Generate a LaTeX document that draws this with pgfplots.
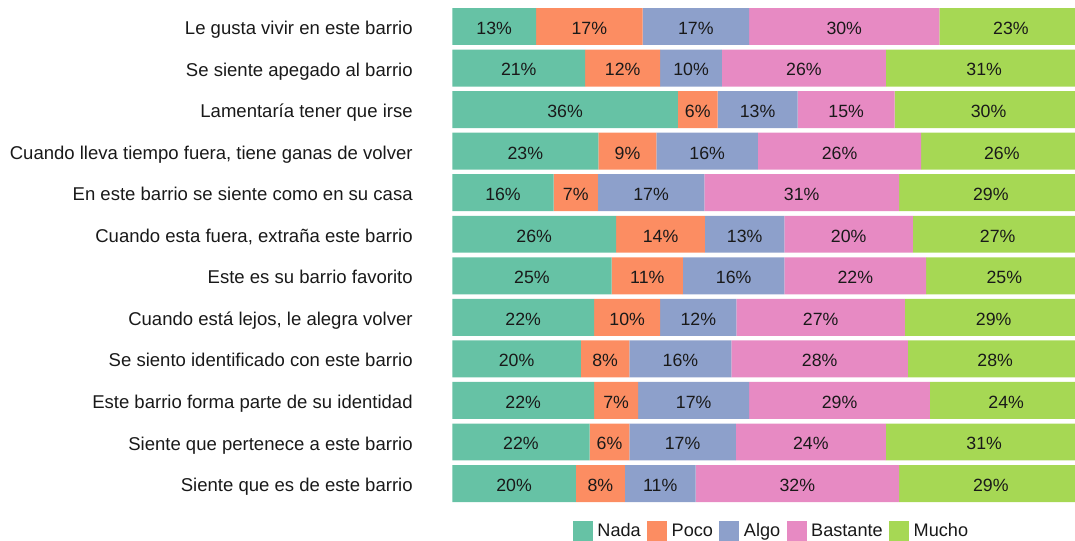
\documentclass[border=0pt]{standalone}
\usepackage{pgfplots}
\pgfplotsset{compat=1.18}
\usepackage{pgfplotstable}
\usepackage{fontspec}
\setmainfont{Liberation Sans}
\definecolor{cNada}{HTML}{66C2A5}
\definecolor{cPoco}{HTML}{FC8D62}
\definecolor{cAlgo}{HTML}{8DA0CB}
\definecolor{cBast}{HTML}{E78AC3}
\definecolor{cMucho}{HTML}{A6D854}

% segment widths (percent), one table per answer
\pgfplotstableread{
y x
1 13.3
2 21.1
3 35.8
4 23.2
5 16.1
6 26.0
7 25.3
8 22.5
9 20.4
10 22.5
11 21.8
12 19.6
}\tNada
\pgfplotstableread{
y x
1 16.9
2 11.9
3 6.3
4 9.2
5 7.0
6 14.1
7 11.3
8 10.5
9 7.7
10 7.0
11 6.3
12 7.8
}\tPoco
\pgfplotstableread{
y x
1 16.9
2 9.8
3 12.7
4 16.1
5 16.9
6 12.6
7 16.1
8 12.1
9 16.2
10 17.6
11 16.9
12 11.2
}\tAlgo
\pgfplotstableread{
y x
1 30.2
2 26.0
3 15.4
4 25.9
5 30.9
6 20.4
7 22.5
8 26.7
9 28.0
10 28.7
11 23.8
12 32.3
}\tBast
\pgfplotstableread{
y x
1 22.7
2 31.2
3 29.8
4 25.6
5 29.1
6 26.9
7 24.8
8 28.2
9 27.7
10 24.2
11 31.2
12 29.1
}\tMucho

% label positions (segment centres) and printed labels
\pgfplotstableread{
y c m
1 6.65 13
1 21.75 17
1 38.65 17
1 62.2 30
1 88.65 23
2 10.55 21
2 27.05 12
2 37.9 10
2 55.8 26
2 84.4 31
3 17.9 36
3 38.95 6
3 48.45 13
3 62.5 15
3 85.1 30
4 11.6 23
4 27.8 9
4 40.45 16
4 61.45 26
4 87.2 26
5 8.05 16
5 19.6 7
5 31.55 17
5 55.45 31
5 85.45 29
6 13.0 26
6 33.05 14
6 46.4 13
6 62.9 20
6 86.55 27
7 12.65 25
7 30.95 11
7 44.65 16
7 63.95 22
7 87.6 25
8 11.25 22
8 27.75 10
8 39.05 12
8 58.45 27
8 85.9 29
9 10.2 20
9 24.25 8
9 36.2 16
9 58.3 28
9 86.15 28
10 11.25 22
10 26.0 7
10 38.3 17
10 61.45 29
10 87.9 24
11 10.9 22
11 24.95 6
11 36.55 17
11 56.9 24
11 84.4 31
12 9.8 20
12 23.5 8
12 33.0 11
12 54.75 32
12 85.45 29
}\tLabels

\begin{document}
\begin{tikzpicture}
\useasboundingbox (-339.2pt,-27.5pt) rectangle ++(806.25pt,405.75pt);
\begin{axis}[
  at={(0,0)}, anchor=south west,
  scale only axis,
  width=467pt, height=373.95pt,
  xbar stacked,
  bar width=0.89,
  xmin=0, xmax=98.8,
  ymin=0.5, ymax=12.5,
  y dir=reverse,
  axis line style={draw=none},
  hide x axis,
  ytick={1,...,12},
  yticklabels={
    Le gusta vivir en este barrio,
    Se siente apegado al barrio,
    Lamentaría tener que irse,
    {Cuando lleva tiempo fuera, tiene ganas de volver},
    En este barrio se siente como en su casa,
    {Cuando esta fuera, extraña este barrio},
    Este es su barrio favorito,
    {Cuando está lejos, le alegra volver},
    Se siento identificado con este barrio,
    Este barrio forma parte de su identidad,
    Siente que pertenece a este barrio,
    Siente que es de este barrio},
  major tick length=0pt,
  yticklabel style={font=\fontsize{13.9pt}{16pt}\selectfont, inner sep=0pt, anchor=base east, xshift=-29.5pt, yshift=-6pt, text=black!90},
  legend columns=5,
  legend style={draw=none, at={(0.511,-0.033)}, anchor=north, inner sep=0pt,
    font=\fontsize{13.6pt}{16pt}\selectfont, text=black!90,
    /tikz/every odd column/.append style={column sep=3.5pt},
    /tikz/every even column/.append style={column sep=4.7pt},
    nodes={inner sep=0pt}},
  legend image code/.code={\path[#1, draw=none] (0pt,-7.5pt) rectangle (15pt,7.5pt);},
]
\addplot[fill=cNada, draw=none] table[x=x, y=y] {\tNada};
\addplot[fill=cPoco, draw=none] table[x=x, y=y] {\tPoco};
\addplot[fill=cAlgo, draw=none] table[x=x, y=y] {\tAlgo};
\addplot[fill=cBast, draw=none] table[x=x, y=y] {\tBast};
\addplot[fill=cMucho, draw=none] table[x=x, y=y] {\tMucho};
\legend{Nada, Poco, Algo, Bastante, Mucho}
\end{axis}
\begin{axis}[
  at={(0,0)}, anchor=south west,
  scale only axis,
  width=467pt, height=373.95pt,
  xmin=0, xmax=98.8,
  ymin=0.5, ymax=12.5,
  y dir=reverse,
  hide axis,
  clip=false,
]
\addplot[draw=none, mark=none, point meta=explicit symbolic,
  nodes near coords={\pgfplotspointmeta\%},
  every node near coord/.style={anchor=base, inner sep=0pt, yshift=-5.9pt,
    font=\fontsize{13.3pt}{16pt}\selectfont, text=black!90}]
  table[x=c, y=y, meta=m] {\tLabels};
\end{axis}
\end{tikzpicture}
\end{document}
